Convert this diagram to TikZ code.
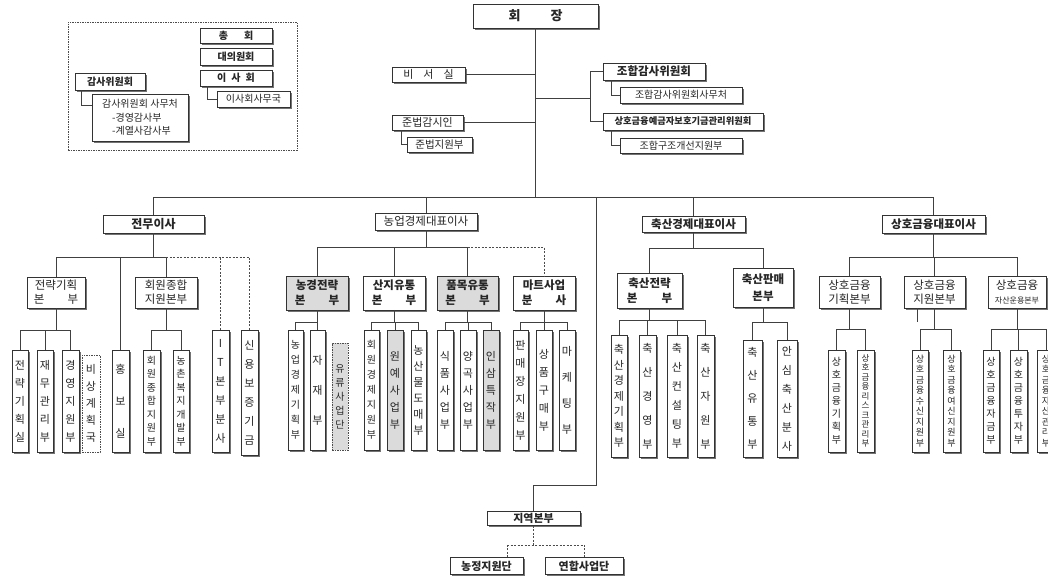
\documentclass[tikz,border=0pt]{standalone}
\usepackage{fontspec}
\setmainfont{Noto Sans CJK KR}
\usetikzlibrary{shadows}
\newcommand\vf[2]{\fontsize{#1}{#2}\selectfont}
\tikzset{
 ln/.style={draw=black!75, line width=0.7pt},
 dl/.style={draw=black!70, line width=0.7pt, dash pattern=on 2pt off 1.5pt},
 box/.style={draw=black!80, line width=0.6pt, fill=white, inner sep=0pt, align=center, text=black!85,
   general shadow={fill=black!55, shadow xshift=1.8pt, shadow yshift=-1.8pt}},
 gbox/.style={box, fill=gray!28},
 dbox/.style={draw=black!70, line width=0.6pt, dash pattern=on 1.5pt off 1pt, fill=white, inner sep=0pt, align=center, text=black!85},
}
\newcommand\kids[5]{%
 \draw[ln] (#1.south) -- (#1.south |- 0,#2);
 \draw[ln] (#3.north |- 0,#2) -- (#4.north |- 0,#2);
 \foreach \c in {#5} {\draw[ln] (\c.north) -- (\c.north |- 0,#2);}
}
\begin{document}
\begin{tikzpicture}[x=1pt,y=-1pt]
\path[fill=white] (0,0) rectangle (1048,576);
\useasboundingbox (0,0) rectangle (1048,576);

% ---------- legend ----------
\node[dbox, fill=none, minimum width=229pt, minimum height=128pt] (lg) at (182.5,86) {};
\node[box, font=\bfseries\vf{10}{12}, minimum width=72pt, minimum height=15pt] (ch) at (236,35.5) {총\hspace{16pt}회};
\node[box, font=\bfseries\vf{10}{12}, minimum width=72pt, minimum height=17pt] (dw) at (236,56.5) {대의원회};
\node[box, font=\bfseries\vf{10}{12}, minimum width=72pt, minimum height=16pt] (is) at (236,78) {이\hspace{5pt}사\hspace{5pt}회};
\node[box, font=\vf{10}{12}, minimum width=73pt, minimum height=16pt] (isb) at (253.5,99) {이사회사무국};
\node[box, font=\bfseries\vf{10}{12}, minimum width=70pt, minimum height=17pt] (gs) at (110,81.5) {감사위원회};
\node[box, font=\vf{10}{13.5}, minimum width=96pt, minimum height=47pt, align=left] (gsb) at (140,117.5) {감사위원회 사무처\\\hspace{10pt}-경영감사부\\\hspace{10pt}-계열사감사부};
\draw[ln] (is.south -| 207,0) |- (isb.west);
\draw[ln] (gs.south -| 81,0) |- (gsb.west |- 0,105);

% ---------- top ----------
\node[box, font=\bfseries\vf{13}{15}, minimum width=125pt, minimum height=24pt] (hj) at (535.5,16) {회\hspace{30pt}장};
\node[box, font=\vf{11}{13}, minimum width=73pt, minimum height=15pt] (bs) at (428.5,74.5) {비\hspace{10pt}서\hspace{10pt}실};
\node[box, font=\vf{11}{13}, minimum width=71pt, minimum height=15pt] (jb) at (427.5,122.5) {준법감시인};
\node[box, font=\vf{10.5}{13}, minimum width=65pt, minimum height=15pt] (jbw) at (439.5,144.5) {준법지원부};
\node[box, font=\bfseries\vf{11.5}{13}, minimum width=102pt, minimum height=17pt] (jh) at (654,71.5) {조합감사위원회};
\node[box, font=\vf{10}{12}, minimum width=122pt, minimum height=16pt] (jhs) at (681,95) {조합감사위원회사무처};
\node[box, font=\bfseries\vf{9.3}{12}, minimum width=160pt, minimum height=17pt] (sy) at (683,121.5) {상호금융예금자보호기금관리위원회};
\node[box, font=\vf{10}{12}, minimum width=122pt, minimum height=15pt] (jg) at (681,145.5) {조합구조개선지원부};

\draw[ln] (hj.south) -- (hj.south |- 0,197);
\draw[ln] (bs.east) -- (bs.east -| hj.south);
\draw[ln] (jb.east) -- (jb.east -| hj.south);
\draw[ln] (jb.south -| 401,0) |- (jbw.west);
\draw[ln] (hj.south |- 0,98) -- (590,98);
\draw[ln] (jh.west) -- (jh.west -| 590,0) -- (sy.west -| 590,0) -- (sy.west);
\draw[ln] (jh.south -| 611,0) |- (jhs.west);
\draw[ln] (sy.south -| 611,0) |- (jg.west);

% ---------- main level ----------
\node[box, font=\bfseries\vf{12}{14}, minimum width=101pt, minimum height=18pt] (jm) at (153.5,224) {전무이사};
\node[box, font=\vf{11.5}{14}, minimum width=102pt, minimum height=17pt] (ng) at (426,221.5) {농업경제대표이사};
\node[box, font=\bfseries\vf{11.5}{14}, minimum width=103pt, minimum height=16pt] (cs) at (693.5,224.5) {축산경제대표이사};
\node[box, font=\bfseries\vf{11.5}{14}, minimum width=103pt, minimum height=18pt] (sh) at (933.5,224) {상호금융대표이사};
\draw[ln] (jm.north |- 0,197) -- (sh.north |- 0,197);
\foreach \n in {jm,ng,cs,sh} {\draw[ln] (\n.north) -- (\n.north |- 0,197);}

% ---------- 전무이사 ----------
\node[box, font=\vf{11.5}{14}, minimum width=58pt, minimum height=31pt] (jr) at (56,292.5) {전략기획\\본\hspace{23pt}부};
\node[box, font=\vf{11.5}{14}, minimum width=62pt, minimum height=31pt] (hw) at (166,292.5) {회원종합\\지원본부};
\node[box, font=\vf{11}{32}, minimum width=17pt, minimum height=102pt] (hb) at (120.5,401) {홍\\보\\실};
\node[box, font=\vf{11}{19}, minimum width=17pt, minimum height=122pt] (it) at (220.5,391) {I\\T\\본\\부\\분\\사};
\node[box, font=\vf{11}{19}, minimum width=17pt, minimum height=125pt] (sb) at (249.5,392.5) {신\\용\\보\\증\\기\\금};
\draw[ln] (jm.south) -- (jm.south |- 0,257);
\draw[ln] (jr.north |- 0,257) -- (hw.north |- 0,257);
\foreach \n in {jr,hb,hw} {\draw[ln] (\n.north) -- (\n.north |- 0,257);}
\draw[dl] (hw.north |- 0,257) -- (sb.north |- 0,257);
\draw[dl] (it.north) -- (it.north |- 0,257);
\draw[dl] (sb.north) -- (sb.north |- 0,257);

\node[box, font=\vf{11}{18}, minimum width=16pt, minimum height=102pt] (a1) at (20,401) {전\\략\\기\\획\\실};
\node[box, font=\vf{11}{18}, minimum width=16pt, minimum height=102pt] (a2) at (45,401) {재\\무\\관\\리\\부};
\node[box, font=\vf{11}{18}, minimum width=17pt, minimum height=102pt] (a3) at (70.5,401) {경\\영\\지\\원\\부};
\node[dbox, font=\vf{11}{17}, minimum width=18pt, minimum height=97pt] (a4) at (91,403.5) {비\\상\\계\\획\\국};
\kids{jr}{330}{a1}{a3}{a1,a2,a3}
\node[box, font=\vf{10}{13.5}, minimum width=17pt, minimum height=102pt] (b1) at (151.5,401) {회\\원\\종\\합\\지\\원\\부};
\node[box, font=\vf{10}{13.5}, minimum width=16pt, minimum height=102pt] (b2) at (181,401) {농\\촌\\복\\지\\개\\발\\부};
\kids{hw}{330}{b1}{b2}{b1,b2}

% ---------- 농업경제 ----------
\node[gbox, font=\bfseries\vf{11.5}{15}, minimum width=62pt, minimum height=34pt] (nj) at (317,293) {농경전략\\본\hspace{23pt}부};
\node[box, font=\bfseries\vf{11.5}{15}, minimum width=62pt, minimum height=34pt] (sj) at (394,293) {산지유통\\본\hspace{23pt}부};
\node[gbox, font=\bfseries\vf{11.5}{15}, minimum width=61pt, minimum height=34pt] (pm) at (467.5,293) {품목유통\\본\hspace{23pt}부};
\node[box, font=\bfseries\vf{11.5}{15}, minimum width=62pt, minimum height=34pt] (mt) at (544,293) {마트사업\\분\hspace{23pt}사};
\draw[ln] (ng.south) -- (ng.south |- 0,247);
\draw[ln] (nj.north |- 0,247) -- (pm.north |- 0,247);
\foreach \n in {nj,sj,pm} {\draw[ln] (\n.north) -- (\n.north |- 0,247);}
\draw[dl] (pm.north |- 0,247) -- (mt.north |- 0,247) -- (mt.north);

\node[box, font=\vf{10}{15}, minimum width=15pt, minimum height=120pt] (n1) at (295.5,390) {농\\업\\경\\제\\기\\획\\부};
\node[box, font=\vf{11}{30}, minimum width=15pt, minimum height=120pt] (n2) at (317.5,390) {자\\재\\부};
\node[dbox, fill=gray!28, font=\vf{10}{14}, minimum width=16pt, minimum height=107pt] (n3) at (340,396.5) {유\\류\\사\\업\\단};
\kids{nj}{322}{n1}{n2}{n1,n2}
\node[box, font=\vf{10}{15}, minimum width=15pt, minimum height=120pt] (s1) at (371.5,390) {회\\원\\경\\제\\지\\원\\부};
\node[gbox, font=\vf{11}{17}, minimum width=16pt, minimum height=120pt] (s2) at (395,390) {원\\예\\사\\업\\부};
\node[box, font=\vf{11}{16}, minimum width=15pt, minimum height=120pt] (s3) at (418.5,390) {농\\산\\물\\도\\매\\부};
\kids{sj}{322}{s1}{s3}{s1,s2,s3}
\node[box, font=\vf{11}{17}, minimum width=16pt, minimum height=120pt] (p1) at (445,390) {식\\품\\사\\업\\부};
\node[box, font=\vf{11}{17}, minimum width=16pt, minimum height=120pt] (p2) at (468,390) {양\\곡\\사\\업\\부};
\node[gbox, font=\vf{11}{17}, minimum width=16pt, minimum height=120pt] (p3) at (491,390) {인\\삼\\특\\작\\부};
\kids{pm}{322}{p1}{p3}{p1,p2,p3}
\node[box, font=\vf{11}{18}, minimum width=15pt, minimum height=120pt] (m1) at (520.5,390) {판\\매\\장\\지\\원\\부};
\node[box, font=\vf{11}{18}, minimum width=16pt, minimum height=120pt] (m2) at (544,390) {상\\품\\구\\매\\부};
\node[box, font=\vf{11}{26}, minimum width=16pt, minimum height=120pt] (m3) at (567,390) {마\\케\\팅\\부};
\kids{mt}{322}{m1}{m3}{m1,m2,m3}

% ---------- 축산경제 ----------
\node[box, font=\bfseries\vf{11.5}{15}, minimum width=65pt, minimum height=35pt] (cj) at (649.5,290.5) {축산전략\\본\hspace{24pt}부};
\node[box, font=\bfseries\vf{11.5}{17}, minimum width=60pt, minimum height=39pt] (cp) at (763,287.5) {축산판매\\본부};
\draw[ln] (cs.south) -- (cs.south |- 0,248);
\draw[ln] (cj.north |- 0,248) -- (cp.north |- 0,248);
\foreach \n in {cj,cp} {\draw[ln] (\n.north) -- (\n.north |- 0,248);}

\node[box, font=\vf{11}{15.5}, minimum width=16pt, minimum height=122pt] (c1) at (619,396) {축\\산\\경\\제\\기\\획\\부};
\node[box, font=\vf{11}{24}, minimum width=17pt, minimum height=122pt] (c2) at (647.5,396) {축\\산\\경\\영\\부};
\node[box, font=\vf{11}{19}, minimum width=20pt, minimum height=122pt] (c3) at (677,396) {축\\산\\컨\\설\\팅\\부};
\node[box, font=\vf{11}{24}, minimum width=17pt, minimum height=122pt] (c4) at (705.5,396) {축\\산\\자\\원\\부};
\kids{cj}{320}{c1}{c4}{c1,c2,c3,c4}
\node[box, font=\vf{11}{23}, minimum width=19pt, minimum height=117pt] (d1) at (752.5,398.5) {축\\산\\유\\통\\부};
\node[box, font=\vf{11}{19}, minimum width=20pt, minimum height=117pt] (d2) at (787,398.5) {안\\심\\축\\산\\분\\사};
\kids{cp}{322}{d1}{d2}{d1,d2}

% ---------- 상호금융 ----------
\node[box, font=\vf{11.5}{14}, minimum width=61pt, minimum height=32pt] (sk) at (849.5,292) {상호금융\\기획본부};
\node[box, font=\vf{11.5}{14}, minimum width=61pt, minimum height=32pt] (sw) at (934.5,292) {상호금융\\지원본부};
\node[box, font=\vf{11.5}{14}, minimum width=58pt, minimum height=32pt] (sa) at (1017,292) {상호금융\\{\vf{8}{10}자산운용본부}};
\draw[ln] (sh.south) -- (sh.south |- 0,257);
\draw[ln] (sk.north |- 0,257) -- (sa.north |- 0,257);
\foreach \n in {sk,sw,sa} {\draw[ln] (\n.north) -- (\n.north |- 0,257);}
\draw[ln] (sw.south -| 917,0) -- (917,322);

\node[box, font=\vf{10}{13}, minimum width=17pt, minimum height=102pt] (k1) at (836.5,401) {상\\호\\금\\융\\기\\획\\부};
\node[box, font=\vf{8.5}{9.5}, minimum width=17pt, minimum height=102pt] (k2) at (865.5,401) {상\\호\\금\\융\\리\\스\\크\\관\\리\\부};
\kids{sk}{329}{k1}{k2}{k1,k2}
\node[box, font=\vf{9}{10.5}, minimum width=16pt, minimum height=102pt] (w1) at (920,401) {상\\호\\금\\융\\수\\신\\지\\원\\부};
\node[box, font=\vf{9}{10.5}, minimum width=17pt, minimum height=102pt] (w2) at (951.5,401) {상\\호\\금\\융\\여\\신\\지\\원\\부};
\kids{sw}{329}{w1}{w2}{w1,w2}
\node[box, font=\vf{10}{13}, minimum width=16pt, minimum height=102pt] (t1) at (991,401) {상\\호\\금\\융\\자\\금\\부};
\node[box, font=\vf{10}{13}, minimum width=17pt, minimum height=102pt] (t2) at (1018.5,401) {상\\호\\금\\융\\투\\자\\부};
\node[box, font=\vf{9}{10.5}, minimum width=17pt, minimum height=102pt] (t3) at (1046,401) {상\\호\\금\\융\\자\\산\\관\\리\\부};
\kids{sa}{329}{t1}{t3}{t1,t2,t3}

% ---------- 지역본부 ----------
\node[box, font=\bfseries\vf{11}{13}, minimum width=93pt, minimum height=14pt] (jy) at (533.5,518.5) {지역본부};
\node[box, font=\bfseries\vf{11}{13}, minimum width=73pt, minimum height=17pt] (nq) at (486.5,566) {농정지원단};
\node[box, font=\bfseries\vf{11}{13}, minimum width=78pt, minimum height=17pt] (yh) at (584,566) {연합사업단};
\coordinate (lt) at (596,197);
\draw[ln] (lt) -- (596,485) -| (jy.north);
\draw[dl] (jy.south) -- (jy.south |- 0,545);
\draw[dl] (507,545) -- (yh.north |- 0,545);
\draw[dl] (nq.north -| 507,0) -- (507,545);
\draw[dl] (yh.north) -- (yh.north |- 0,545);
\end{tikzpicture}
\end{document}
